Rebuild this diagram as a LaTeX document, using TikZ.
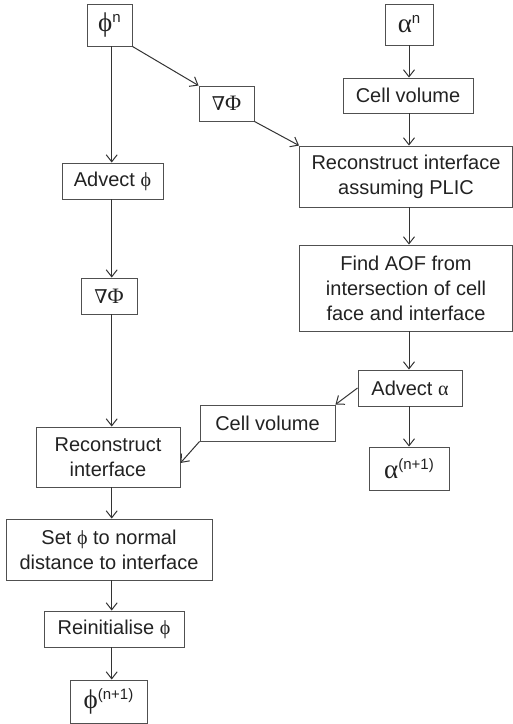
\documentclass[tikz,border=0pt]{standalone}
\usepackage{fontspec}
\setmainfont{Liberation Sans}
\newfontfamily\gk{Liberation Serif}
\newfontfamily\dvs{DejaVu Serif}
\usetikzlibrary{arrows.meta}
\definecolor{boxc}{HTML}{505050}
\definecolor{linec}{HTML}{333333}
\definecolor{txtc}{HTML}{222222}
\newcommand{\phig}{{\gk ϕ}}
\newcommand{\alg}{{\gk α}}
\newcommand{\gradphi}{{\dvs\fontsize{19}{19}\selectfont ∇}{\gk\fontsize{22}{22}\selectfont Φ}}
\newcommand{\sups}[1]{\raisebox{0.45em}{\fontsize{15}{15}\selectfont #1}}
\tikzset{
  box/.style={draw=boxc, line width=0.9pt, text=txtc, align=center, inner sep=0pt,
    font=\fontsize{20}{25}\selectfont},
  arr/.style={draw=linec, line width=1pt, -{Straight Barb[length=7pt,width=11pt]}},
}
\begin{document}
\begin{tikzpicture}[x=1pt,y=-1pt]
\useasboundingbox (0,0) rectangle (513,724);
\coordinate (lx) at (111.7,0);
\coordinate (rx) at (409,0);
% left column
\node[box, minimum width=45pt, minimum height=42pt] (phin) at (109.5,25) {{\fontsize{27}{27}\selectfont\phig}\sups{n}};
\node[box, minimum width=101pt, minimum height=36pt] (advphi) at (112.5,181) {Advect \phig};
\node[box, minimum width=56pt, minimum height=36pt] (grad2) at (109,296) {\gradphi};
\node[box, minimum width=144pt, minimum height=60pt] (recon) at (108,457) {Reconstruct\\interface};
\node[box, minimum width=206pt, minimum height=61pt] (setphi) at (109,549.5) {Set \phig{} to normal\\distance to interface};
\node[box, minimum width=140pt, minimum height=36pt] (reinit) at (114,629) {Reinitialise \phig};
\node[box, minimum width=77pt, minimum height=43pt] (phin1) at (108.5,701.5) {{\fontsize{27}{27}\selectfont\phig}\sups{(n+1)}};
% middle
\node[box, minimum width=55pt, minimum height=35pt] (grad1) at (226.5,103.5) {\gradphi};
\node[box, minimum width=135pt, minimum height=36pt] (cv2) at (267.5,423) {Cell volume};
% right column
\node[box, minimum width=48pt, minimum height=41pt] (alphan) at (409,24.5) {{\fontsize{27}{27}\selectfont\alg}\sups{n}};
\node[box, minimum width=130pt, minimum height=35pt] (cv1) at (408,95.5) {Cell volume};
\node[box, minimum width=213pt, minimum height=61pt] (plic) at (406,176.5) {Reconstruct interface\\assuming PLIC};
\node[box, minimum width=213pt, minimum height=86pt] (aof) at (406,288) {Find AOF from\\intersection of cell\\face and interface};
\node[box, minimum width=104pt, minimum height=36pt] (advalpha) at (410,388) {Advect \alg};
\node[box, minimum width=80pt, minimum height=43pt] (alphan1) at (409,468.5) {{\fontsize{27}{27}\selectfont\alg}\sups{(n+1)}};
% arrows left
\draw[arr] (phin.south -| lx) -- (advphi.north -| lx);
\draw[arr] (advphi.south -| lx) -- (grad2.north -| lx);
\draw[arr] (grad2.south -| lx) -- (recon.north -| lx);
\draw[arr] (recon.south -| lx) -- (setphi.north -| lx);
\draw[arr] (setphi.south -| lx) -- (reinit.north -| lx);
\draw[arr] (reinit.south -| lx) -- (phin1.north -| lx);
% arrows right
\draw[arr] (alphan.south -| rx) -- (cv1.north -| rx);
\draw[arr] (cv1.south -| rx) -- (plic.north -| rx);
\draw[arr] (plic.south -| rx) -- (aof.north -| rx);
\draw[arr] (aof.south -| rx) -- (advalpha.north -| rx);
\draw[arr] (advalpha.south -| rx) -- (alphan1.north -| rx);
% diagonals
\draw[arr] (phin.south east) -- (grad1.north west);
\draw[arr] (grad1.south east) -- (plic.north west);
\draw[arr] (advalpha.west) -- (cv2.north east);
\draw[arr] (cv2.south west) -- ([yshift=-6pt]recon.east);
\end{tikzpicture}
\end{document}
